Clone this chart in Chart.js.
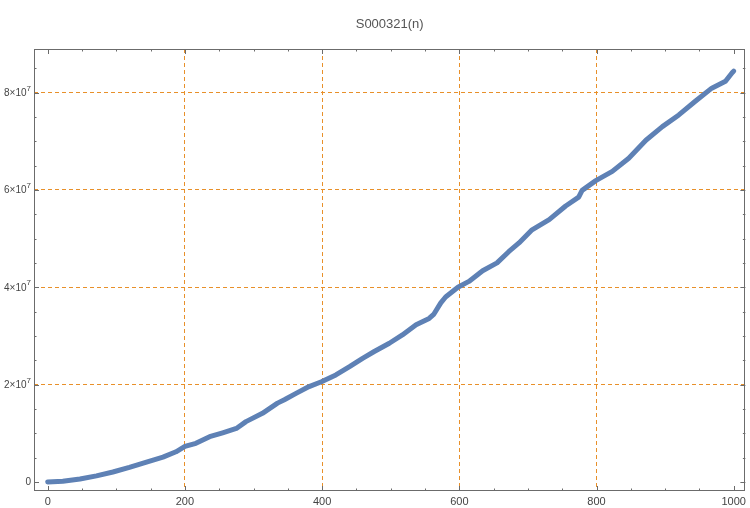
<!DOCTYPE html>
<html>
<head>
<meta charset="utf-8">
<script src="https://cdn.jsdelivr.net/npm/chart.js@4/dist/chart.umd.min.js"></script>
<style>
  html, body { margin: 0; padding: 0; background: #fff; }
  #wrap { width: 750px; height: 508px; }
</style>
</head>
<body>
<div id="wrap"><canvas id="chart" width="750" height="508"></canvas></div>
<script>
// S000321(n): valores (n, valor)
const nValues = [0, 22, 47, 71, 95, 119, 144, 168, 187, 200, 216, 236, 255, 275, 289, 313, 335, 345,
    362, 381, 399, 420, 440, 459, 476, 498, 517, 537, 556, 563, 573, 580, 598, 614, 634, 655, 672,
    687, 706, 731, 755, 774, 779, 799, 823, 847, 872, 896, 920, 944, 968, 988, 998, 1000];
const sValues = [0, 150000, 600000, 1250000, 2050000, 3000000, 4100000, 5100000, 6200000, 7300000,
    7950000, 9300000, 10100000, 11000000, 12400000, 14100000, 16200000, 16900000, 18200000, 19600000,
    20600000, 22000000, 23700000, 25400000, 26800000, 28500000, 30200000, 32300000, 33600000, 34500000,
    36800000, 38000000, 40000000, 41200000, 43400000, 45000000, 47300000, 49100000, 51800000, 53900000,
    56700000, 58500000, 59900000, 61900000, 63800000, 66500000, 70200000, 73000000, 75400000, 78200000,
    80900000, 82300000, 84100000, 84400000];

const xTickValues = [0, 200, 400, 600, 800, 1000];
const yTickValues = [0, 20000000, 40000000, 60000000, 80000000];
// rótulo do eixo y: [mantissa, expoente] -> "2×10^7"
const yTickLabels = [['0', ''], ['2×10', '7'], ['4×10', '7'], ['6×10', '7'], ['8×10', '7']];
const titleText = 'S000321(n)';

const FONT = "'Liberation Sans', Arial, sans-serif";
const FRAME = '#6b6b6b';
const GRID = '#e8902a';
const LABEL = '#444';

// linhas de grade só nos rótulos internos (sem 0 e 1000)
const gridColor = (value, lo, hi) => (value === lo || value === hi ? 'rgba(0,0,0,0)' : GRID);

// moldura estilo Mathematica com marcas para dentro nos quatro lados + título + rótulos y
const framePlugin = {
    id: 'frameTicks',
    afterDraw(chart) {
        const { ctx, chartArea: a, scales } = chart;
        ctx.save();
        ctx.strokeStyle = FRAME;
        ctx.lineWidth = 1;
        ctx.strokeRect(Math.round(a.left) + 0.5, Math.round(a.top) + 0.5,
            Math.round(a.right - a.left) - 1, Math.round(a.bottom - a.top) - 1);
        ctx.beginPath();
        for (let v = 0; v <= 1000; v += 50) {
            const x = Math.round(scales.x.getPixelForValue(v)) + 0.5;
            const len = v % 200 === 0 ? 5 : 2.5;
            ctx.moveTo(x, a.bottom); ctx.lineTo(x, a.bottom - len);
            ctx.moveTo(x, a.top); ctx.lineTo(x, a.top + len);
        }
        for (let v = 0; v <= 85000000; v += 5000000) {
            const y = Math.round(scales.y.getPixelForValue(v)) + 0.5;
            const len = v % 20000000 === 0 ? 5 : 2.5;
            ctx.moveTo(a.left, y); ctx.lineTo(a.left + len, y);
            ctx.moveTo(a.right, y); ctx.lineTo(a.right - len, y);
        }
        ctx.stroke();

        // rótulos do eixo y com expoente sobrescrito
        ctx.fillStyle = LABEL;
        ctx.textBaseline = 'middle';
        ctx.textAlign = 'left';
        yTickValues.forEach((v, i) => {
            const [base, exp] = yTickLabels[i];
            const y = scales.y.getPixelForValue(v);
            ctx.font = `10px ${FONT}`;
            const wb = ctx.measureText(base).width;
            ctx.font = `8px ${FONT}`;
            const we = exp ? ctx.measureText(exp).width : 0;
            const x0 = a.left - 3 - wb - we;
            ctx.font = `10px ${FONT}`;
            ctx.fillText(base, x0, y + 0.5);
            if (exp) {
                ctx.font = `8px ${FONT}`;
                ctx.fillText(exp, x0 + wb, y - 4);
            }
        });

        ctx.fillStyle = '#555';
        ctx.font = `13px ${FONT}`;
        ctx.textAlign = 'center';
        ctx.fillText(titleText, (a.left + a.right) / 2, 24);
        ctx.restore();
    },
};

new Chart(document.getElementById('chart'), {
    type: 'line',
    data: {
        datasets: [{
            data: nValues.map((n, i) => ({ x: n, y: sValues[i] })),
            borderColor: '#5e81b5',
            borderWidth: 5,
            borderCapStyle: 'round',
            borderJoinStyle: 'round',
            pointRadius: 0,
            tension: 0,
            fill: false,
        }],
    },
    options: {
        responsive: false,
        animation: false,
        layout: { padding: { top: 49, right: 3, left: 0, bottom: 0 } },
        plugins: { legend: { display: false }, tooltip: { enabled: false }, title: { display: false } },
        scales: {
            x: {
                type: 'linear',
                min: -20,
                max: 1017,
                afterBuildTicks: (s) => { s.ticks = xTickValues.map((v) => ({ value: v })); },
                afterFit: (s) => { s.height = 17; },
                grid: { color: (c) => gridColor(c.tick.value, 0, 1000), drawTicks: false, lineWidth: 1 },
                border: { display: false, dash: [4, 3] },
                ticks: {
                    padding: 4,
                    color: LABEL,
                    font: { family: FONT, size: 11 },
                    maxRotation: 0,
                    autoSkip: false,
                    callback: (v) => String(v),
                },
            },
            y: {
                type: 'linear',
                min: -1850000,
                max: 88940000,
                afterBuildTicks: (s) => { s.ticks = yTickValues.map((v) => ({ value: v })); },
                afterFit: (s) => { s.width = 34; },
                grid: { color: (c) => gridColor(c.tick.value, 0, null), drawTicks: false, lineWidth: 1 },
                border: { display: false, dash: [4, 3] },
                ticks: { display: false },
            },
        },
    },
    plugins: [framePlugin],
});
</script>
</body>
</html>
